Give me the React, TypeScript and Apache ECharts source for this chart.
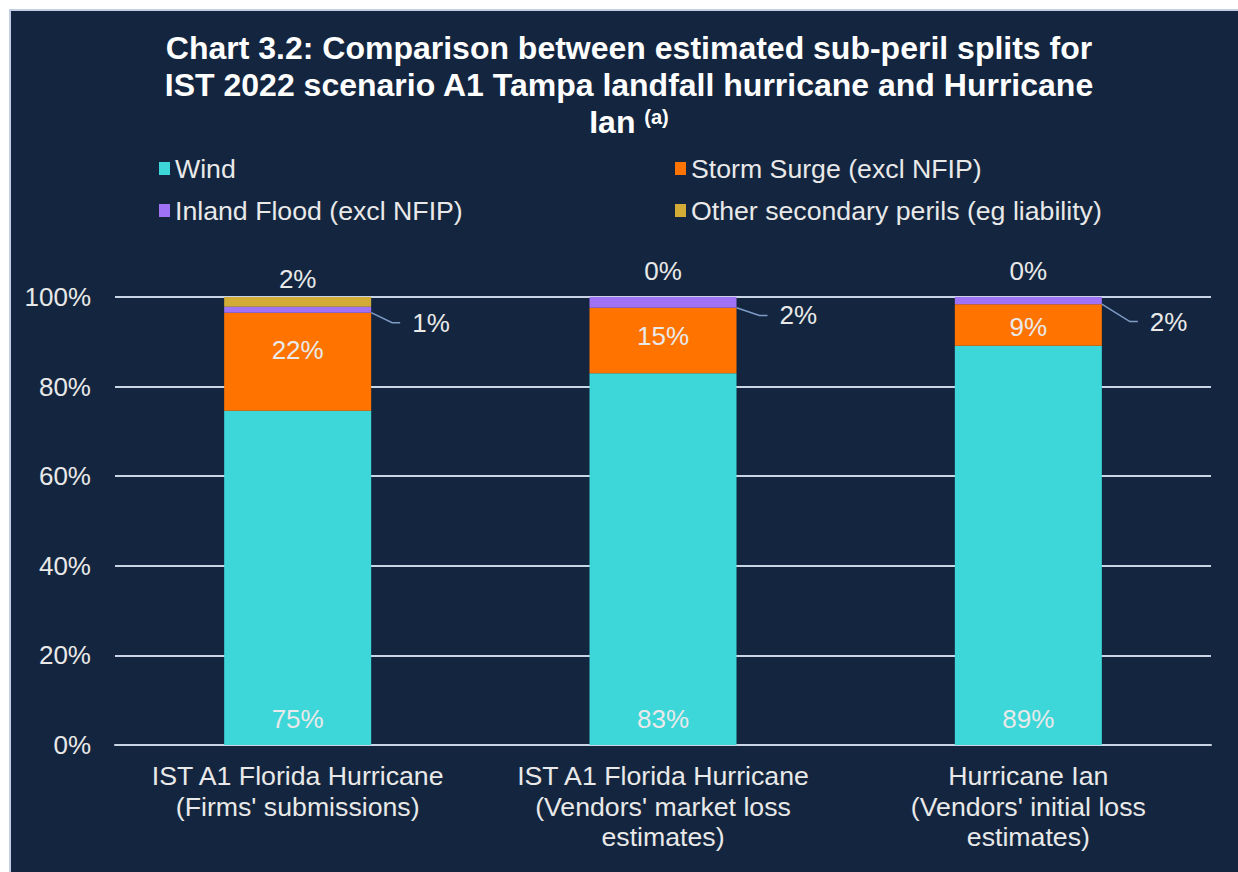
import React, { useEffect, useRef } from "react";
import * as echarts from "echarts";

const categories = [
  "IST A1 Florida Hurricane\n(Firms' submissions)",
  "IST A1 Florida Hurricane\n(Vendors' market loss\nestimates)",
  "Hurricane Ian\n(Vendors' initial loss\nestimates)",
];
const seriesNames = [
  "Wind",
  "Storm Surge (excl NFIP)",
  "Inland Flood (excl NFIP)",
  "Other secondary perils (eg liability)",
];
const wind = [74.6, 83.0, 89.1];
const stormSurge = [21.9, 14.6, 9.3];
const inlandFlood = [1.3, 2.4, 1.6];
const otherPerils = [2.2, 0, 0];

const titleLines = [
  "Chart 3.2: Comparison between estimated sub-peril splits for",
  "IST 2022 scenario A1 Tampa landfall hurricane and Hurricane",
  "Ian",
];
const titleNote = "(a)";

const FONT = '"Liberation Sans", Arial, Helvetica, sans-serif';
const TXT = "#e9e9e9";
const GRIDC = "#c9d5e5";

// label placement tweaks (styling, not data)
const surgeOffsets = [[0, -12], [0, -4], [0, 2]];
const floodShift = [[29, 13], [31, 13], [36, 21]];
const otherDistance = [5, 13, 13];

export default function App() {
  const ref = useRef<HTMLDivElement>(null);
  useEffect(() => {
    if (!ref.current) return;
    const chart = echarts.init(ref.current, null, { renderer: "svg" });
    const labelBase = {
      color: TXT,
      fontSize: 26,
      fontFamily: FONT,
      lineHeight: 26,
      formatter: (p: any) => Math.round(p.value) + "%",
    };
    const legendBase = {
      orient: "vertical",
      top: 139,
      itemWidth: 11,
      itemHeight: 13,
      itemGap: 15,
      icon: "rect",
      selectedMode: false,
      textStyle: { color: TXT, fontSize: 26.7, fontFamily: FONT, lineHeight: 27 },
    };
    const option: any = {
      animation: false,
      backgroundColor: "#14263f",
      graphic: [
        {
          type: "text",
          x: 618,
          y: 18,
          style: {
            text: titleLines[0] + "\n" + titleLines[1] + "\n" + titleLines[2] + " {sup|" + titleNote + "}",
            fill: "#ffffff",
            fontSize: 32,
            fontWeight: "bold",
            fontFamily: FONT,
            lineHeight: 37,
            align: "center",
            verticalAlign: "top",
            rich: {
              sup: {
                fontSize: 20,
                fontWeight: "bold",
                fontFamily: FONT,
                fill: "#ffffff",
                verticalAlign: "top",
                padding: [4, 0, 0, 0],
              },
            },
          },
        },
      ],
      legend: [
        { ...legendBase, data: [seriesNames[0], seriesNames[2]], left: 143 },
        { ...legendBase, data: [seriesNames[1], seriesNames[3]], left: 659 },
      ],
      grid: { left: 104, right: 27, top: 286, bottom: 127, containLabel: false },
      xAxis: {
        type: "category",
        data: categories,
        axisTick: { show: false },
        axisLine: { lineStyle: { color: GRIDC, width: 2 } },
        axisLabel: {
          color: TXT,
          fontSize: 26.7,
          fontFamily: FONT,
          lineHeight: 30.5,
          margin: 16,
          interval: 0,
        },
      },
      yAxis: {
        type: "value",
        min: 0,
        max: 100,
        interval: 20,
        axisLine: { show: false },
        axisTick: { show: false },
        splitLine: { lineStyle: { color: GRIDC, width: 2 } },
        axisLabel: {
          color: TXT,
          fontSize: 26,
          fontFamily: FONT,
          margin: 24,
          formatter: "{value}%",
        },
      },
      series: [
        {
          name: seriesNames[0],
          type: "bar",
          stack: "total",
          barWidth: 147,
          itemStyle: { color: "#3dd7d9" },
          label: { ...labelBase, show: true, position: "insideBottom", distance: 13 },
          data: wind,
        },
        {
          name: seriesNames[1],
          type: "bar",
          stack: "total",
          barWidth: 147,
          itemStyle: { color: "#ff7400" },
          label: { ...labelBase, show: true, position: "inside" },
          data: stormSurge.map((v, i) => ({ value: v, label: { offset: surgeOffsets[i] } })),
        },
        {
          name: seriesNames[2],
          type: "bar",
          stack: "total",
          barWidth: 147,
          itemStyle: { color: "#a072f5" },
          label: { ...labelBase, show: true, position: "right", distance: 0, padding: [0, 0, 0, 12] },
          labelLine: { show: true, length2: 8, lineStyle: { color: "#7f9cc6", width: 1.5 } },
          labelLayout: (p: any) => ({ dx: floodShift[p.dataIndex][0], dy: floodShift[p.dataIndex][1] }),
          data: inlandFlood,
        },
        {
          name: seriesNames[3],
          type: "bar",
          stack: "total",
          barWidth: 147,
          itemStyle: { color: "#d3ab37" },
          label: { ...labelBase, show: true, position: "top" },
          data: otherPerils.map((v, i) => ({ value: v, label: { distance: otherDistance[i] } })),
        },
      ],
    };
    chart.setOption(option);
    return () => chart.dispose();
  }, []);
  return (
    <div
      style={{
        position: "fixed",
        left: 9,
        top: 9,
        width: 1229,
        height: 863,
        boxSizing: "border-box",
        borderLeft: "2px solid #c3d0e1",
        borderTop: "2px solid #c3d0e1",
        background: "#14263f",
      }}
    >
      <div ref={ref} style={{ width: 1227, height: 861 }} />
    </div>
  );
}
